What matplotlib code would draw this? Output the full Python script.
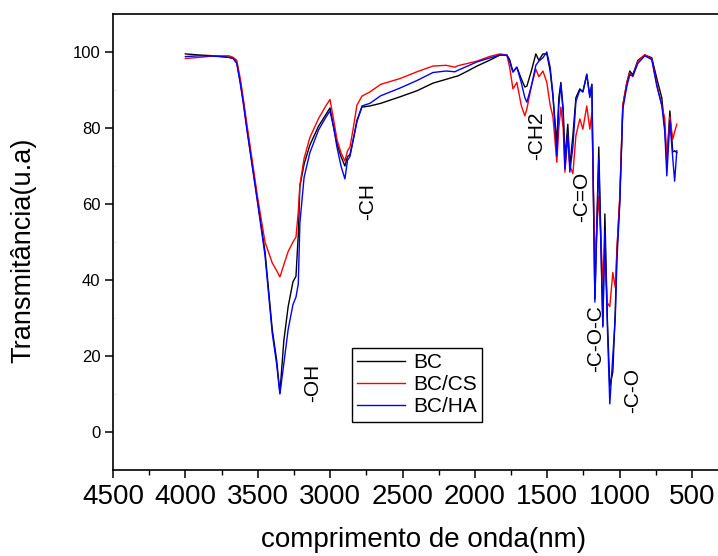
import matplotlib
matplotlib.use("Agg")
import matplotlib.pyplot as plt
import numpy as np

plt.rcParams['font.family'] = ['Liberation Sans', 'DejaVu Sans']

wavenumber = [4000, 3900, 3800, 3700, 3670, 3645, 3620, 3600, 3575, 3550, 3500, 3450, 3400, 3370,
              3347, 3320, 3290, 3257, 3236, 3220, 3209, 3180, 3140, 3080, 3030, 3001, 2975, 2953,
              2925, 2898, 2880, 2863, 2840, 2815, 2780, 2725, 2650, 2518, 2400, 2290, 2200, 2138,
              2117, 2050, 1986, 1900, 1827, 1779, 1760, 1737, 1710, 1680, 1655, 1641, 1610, 1579,
              1558, 1530, 1503, 1480, 1461, 1434, 1420, 1406, 1390, 1378, 1358, 1344, 1323, 1302,
              1275, 1254, 1227, 1206, 1192, 1171, 1144, 1116, 1102, 1085, 1068, 1047, 1030, 1019,
              999, 978, 950, 930, 909, 874, 826, 778, 743, 709, 688, 674, 653, 633, 620, 605]

bc = [99.5, 99.2, 99.0, 98.6, 98.3, 97.2, 92.0, 87.0, 80.0, 73.5, 60.5, 47.5, 27.0, 19.0,
      10.3, 24.0, 33.0, 39.5, 41.0, 52.0, 64.7, 70.5, 75.5, 80.5, 83.5, 85.3, 80.0, 76.0,
      72.5, 70.0, 72.5, 73.0, 77.0, 82.0, 85.5, 85.8, 86.5, 88.2, 89.8, 91.8, 92.8, 93.5,
      93.7, 95.0, 96.3, 97.8, 99.2, 99.2, 98.0, 94.8, 96.0, 93.0, 90.8, 91.0, 95.0, 99.5,
      97.8, 99.5, 99.5, 95.0, 88.4, 76.0, 88.0, 92.0, 85.0, 72.0, 81.0, 70.0, 78.0, 88.0,
      90.3, 89.5, 94.0, 88.5, 91.5, 35.0, 75.0, 28.0, 57.4, 30.0, 12.0, 15.8, 32.0, 47.4,
      61.3, 86.0, 92.0, 95.0, 94.0, 97.8, 99.2, 98.5, 93.0, 88.0, 80.0, 71.0, 84.5, 73.7,
      74.0, 73.5]

bc_cs = [98.3, 98.6, 99.0, 99.0, 98.6, 97.8, 92.8, 87.8, 81.0, 74.5, 61.5, 50.0, 44.5, 42.5,
         40.8, 44.0, 47.5, 50.0, 51.3, 58.0, 65.0, 72.0, 77.5, 82.5, 85.8, 87.5, 82.0, 77.0,
         73.5, 71.3, 74.0, 75.0, 80.0, 86.0, 88.4, 89.5, 91.5, 93.0, 94.8, 96.3, 96.5, 96.0,
         96.4, 97.0, 97.6, 98.8, 99.5, 99.2, 96.0, 90.3, 92.0, 86.0, 83.2, 85.0, 91.0, 95.5,
         93.5, 95.0, 92.0, 86.0, 83.0, 71.0, 80.0, 85.5, 80.0, 68.4, 78.0, 70.0, 68.0, 78.0,
         82.4, 79.7, 85.8, 79.7, 84.0, 45.0, 62.0, 40.0, 45.0, 34.0, 33.0, 42.0, 38.0, 48.0,
         62.0, 86.0, 92.0, 94.5, 93.5, 97.5, 99.3, 98.2, 91.5, 86.0, 82.4, 71.0, 83.0, 77.0,
         79.0, 81.0]

bc_ha = [98.8, 99.0, 98.9, 98.6, 98.3, 97.0, 91.5, 86.5, 79.5, 73.0, 60.0, 46.5, 26.0, 18.0,
         10.0, 18.0, 27.0, 33.5, 35.5, 39.0, 55.0, 67.0, 73.5, 79.5, 82.8, 84.5, 80.0, 75.0,
         70.0, 66.6, 71.5, 72.5, 77.0, 81.6, 85.8, 86.5, 88.5, 90.5, 92.5, 94.6, 95.0, 94.8,
         95.2, 96.3, 97.4, 98.4, 99.2, 99.2, 97.5, 94.7, 96.0, 92.0, 88.0, 86.8, 91.0, 96.5,
         97.6, 98.5, 100.0, 96.0, 89.0, 72.6, 86.0, 91.5, 84.0, 69.2, 79.0, 68.4, 75.0, 87.0,
         90.0, 89.5, 94.2, 88.0, 91.5, 34.2, 72.0, 27.6, 53.0, 28.0, 7.4, 20.0, 30.0, 45.0,
         60.0, 85.0, 91.0, 94.0, 93.7, 97.0, 99.0, 98.0, 91.0, 86.0, 79.0, 67.4, 82.0, 72.0,
         66.0, 74.0]

series_labels = ["BC", "BC/CS", "BC/HA"]
series_colors = ["#000000", "#ff0000", "#0000ff"]

band_labels = ["-OH", "-CH", "-CH2", "-C=O", "-C-O-C", "-C-O"]
band_x = [3119, 2739, 1571, 1260, 1163, 908]
band_y = [12.8, 60.7, 77.9, 61.8, 24.5, 10.9]

x_ticks = [4500, 4000, 3500, 3000, 2500, 2000, 1500, 1000, 500]
y_ticks = [0, 20, 40, 60, 80, 100]

fig = plt.figure(figsize=(7.18, 5.56), dpi=100)
ax = fig.add_axes([0.1574, 0.1547, 0.9072, 0.8201])

for vals, lab, col in zip([bc, bc_cs, bc_ha], series_labels, series_colors):
    ax.plot(wavenumber, vals, color=col, lw=1.0, label=lab)

for t, bx, by in zip(band_labels, band_x, band_y):
    ax.text(bx, by, t, rotation=90, ha='center', va='center', fontsize=15)

ax.set_xlim(4500, 0)
ax.set_ylim(-10, 110)
ax.set_xticks(x_ticks)
ax.set_xticks([4250, 3750, 3250, 2750, 2250, 1750, 1250, 750], minor=True)
ax.set_yticks(y_ticks)
ax.set_yticks([-10, 10, 30, 50, 70, 90, 110], minor=True)
ax.tick_params(axis='x', which='major', direction='out', length=6, width=1.1, labelsize=20, pad=4)
ax.tick_params(axis='x', which='minor', direction='out', length=3.5, width=1.0)
ax.tick_params(axis='y', which='major', direction='out', length=6, width=1.1, labelsize=12, pad=3)
ax.tick_params(axis='y', which='minor', direction='in', length=2, width=0.5, color='#dddddd')
for s in ax.spines.values():
    s.set_linewidth(1.2)

ax.set_xlabel("comprimento de onda(nm)", fontsize=20, labelpad=10)
ax.xaxis.set_label_coords(0.476, -0.125)
ax.set_ylabel("Transmitância(u.a)", fontsize=19.5)
ax.yaxis.set_label_coords(-0.118, 0.482)

leg = ax.legend(loc='upper left', bbox_to_anchor=(0.367, 0.2675), borderaxespad=0,
                fontsize=15, handlelength=2.3, handletextpad=0.4, borderpad=0.25,
                labelspacing=0.15, fancybox=False, framealpha=1, edgecolor='black')
leg.get_frame().set_linewidth(1.0)

fig.savefig("out.png", dpi=100)
